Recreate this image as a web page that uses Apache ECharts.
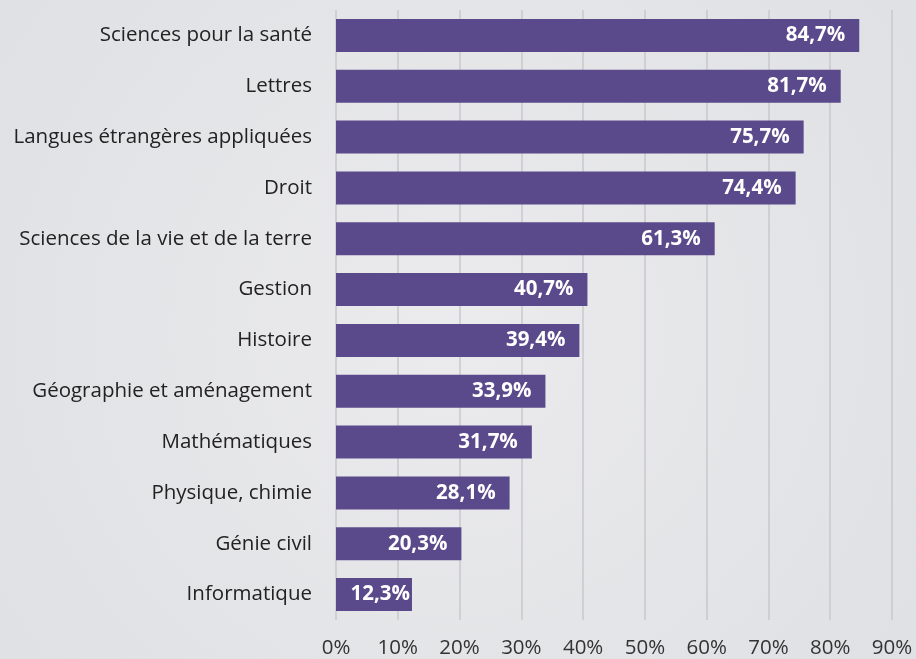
<!DOCTYPE html>
<html>
<head>
<meta charset="utf-8">
<script src="https://cdn.jsdelivr.net/npm/echarts@6/dist/echarts.min.js"></script>
<style>
  html, body { margin: 0; padding: 0; background: #e6e7e9; }
  #main { width: 916px; height: 659px; }
</style>
</head>
<body>
<div id="main"></div>
<script>
const categories = [
  'Sciences pour la santé', 'Lettres', 'Langues étrangères appliquées', 'Droit',
  'Sciences de la vie et de la terre', 'Gestion', 'Histoire', 'Géographie et aménagement',
  'Mathématiques', 'Physique, chimie', 'Génie civil', 'Informatique'
];
const values = [84.7, 81.7, 75.7, 74.4, 61.3, 40.7, 39.4, 33.9, 31.7, 28.1, 20.3, 12.3];

const chart = echarts.init(document.getElementById('main'));

// short bars: keep the label tight against the bar end
const barData = values.map(v => v < 15 ? { value: v, label: { distance: 2 } } : v);

const option = {
  backgroundColor: {
    type: 'radial', x: 0.5, y: 0.5, r: 0.8,
    colorStops: [{ offset: 0, color: '#ebebed' }, { offset: 1, color: '#e0e1e4' }]
  },
  textStyle: { fontFamily: 'Open Sans' },
  grid: { left: 336, right: 24, top: 10, bottom: 39 },
  xAxis: {
    type: 'value', min: 0, max: 90, interval: 10,
    axisLine: { show: false }, axisTick: { show: false },
    splitLine: { lineStyle: { color: '#c9c9cd', width: 1.5 } },
    axisLabel: { formatter: '{value}%', color: '#333', fontSize: 20.5, margin: 18 }
  },
  yAxis: {
    type: 'category', inverse: true, data: categories,
    axisLine: { show: false }, axisTick: { show: false },
    axisLabel: { color: '#222', fontSize: 20.5, margin: 24 }
  },
  series: [{
    type: 'bar', data: barData, barWidth: 33,
    itemStyle: { color: '#5b4a8b' },
    label: {
      show: true, position: 'insideRight', color: '#fff', fontWeight: 'bold',
      fontSize: 20.5, distance: 14,
      formatter: (p) => p.value.toFixed(1).replace('.', ',') + '%'
    }
  }]
};

chart.setOption(option);
</script>
</body>
</html>
